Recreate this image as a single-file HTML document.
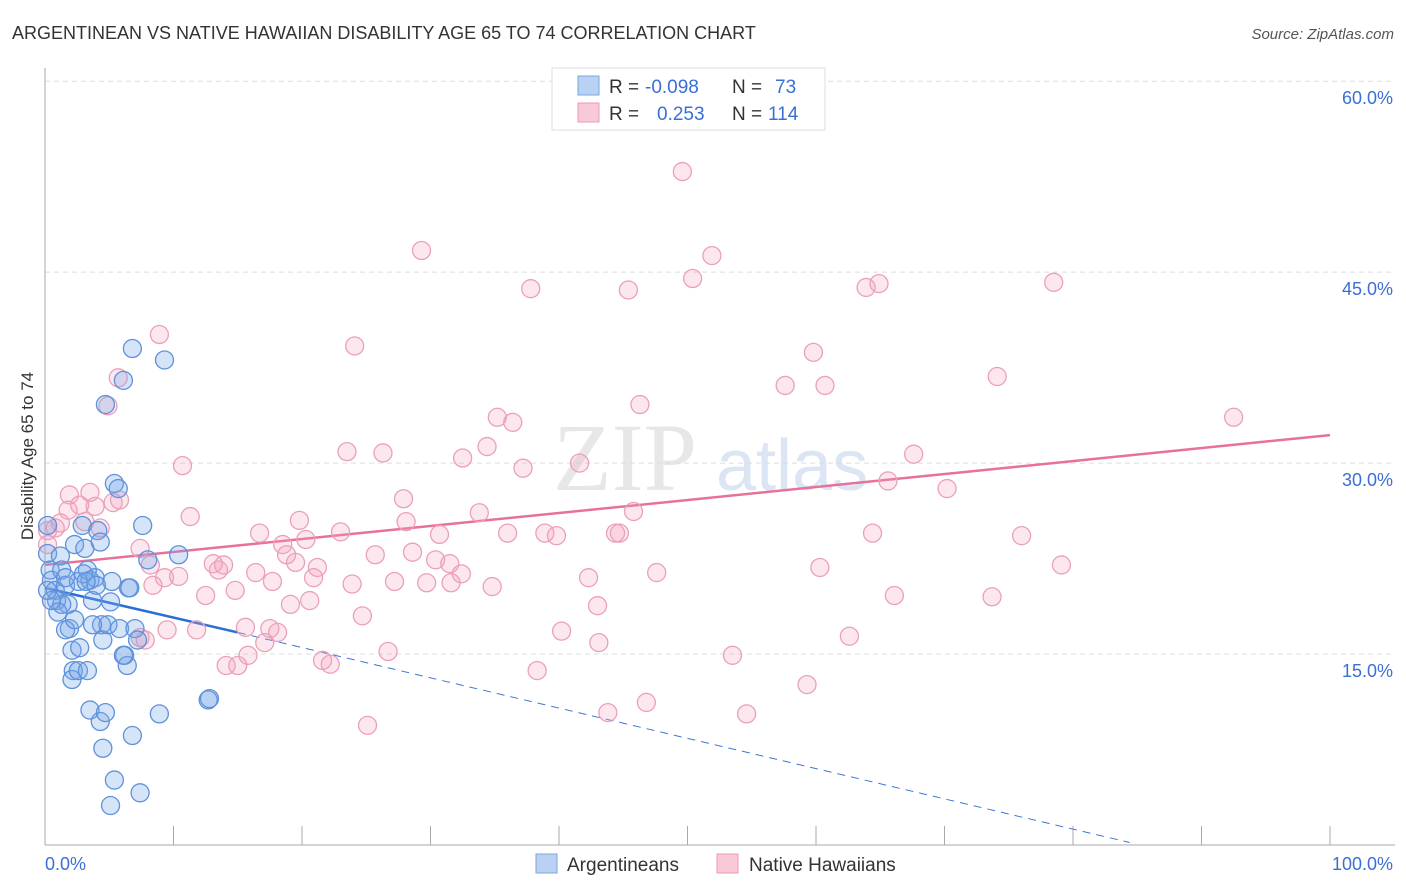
<!DOCTYPE html>
<html><head><meta charset="utf-8"><style>
body{margin:0;background:#fff;font-family:"Liberation Sans",sans-serif;}
svg{display:block}
</style></head><body>
<svg id="chart" width="1406" height="892">
<text x="12" y="39" font-size="18" fill="#333">ARGENTINEAN VS NATIVE HAWAIIAN DISABILITY AGE 65 TO 74 CORRELATION CHART</text>
<text x="1394" y="39" font-size="15" fill="#555" font-style="italic" text-anchor="end">Source: ZipAtlas.com</text>
<text transform="translate(33,456) rotate(-90)" font-size="17" fill="#333" text-anchor="middle">Disability Age 65 to 74</text>
<g opacity="0.35"><text x="553" y="490" font-size="96" fill="#bbb" font-family="Liberation Serif,serif">ZIP</text><text x="716" y="490" font-size="72" fill="#9bb6dd">atlas</text></g>
<g id="grid"></g><g id="axes"></g><g id="trend"></g><g id="pts"></g>
<g>
<rect x="552" y="68" width="273" height="62" fill="#fff" stroke="#ddd"/>
<rect x="578" y="76" width="21" height="19" fill="#b9d2f3" stroke="#7aa6e3"/>
<text x="609" y="93" font-size="19" fill="#333">R = </text><text x="645" y="93" font-size="19" fill="#3b6fd6">-0.098</text>
<text x="732" y="93" font-size="19" fill="#333">N = </text><text x="775" y="93" font-size="19" fill="#3b6fd6">73</text>
<rect x="578" y="103" width="21" height="19" fill="#f8c9d7" stroke="#eb9ab4"/>
<text x="609" y="120" font-size="19" fill="#333">R = </text><text x="657" y="120" font-size="19" fill="#3b6fd6">0.253</text>
<text x="732" y="120" font-size="19" fill="#333">N = </text><text x="768" y="120" font-size="19" fill="#3b6fd6">114</text>
</g>
<g>
<rect x="536" y="854" width="21" height="19" fill="#b9d2f3" stroke="#7aa6e3"/>
<text x="567" y="871" font-size="19" fill="#333">Argentineans</text>
<rect x="717" y="854" width="21" height="19" fill="#f8c9d7" stroke="#eb9ab4"/>
<text x="749" y="871" font-size="19" fill="#333">Native Hawaiians</text>
</g>
</svg>
<script>
const yTicks=[15,30,45,60];
const yTickLabels=["15.0%","30.0%","45.0%","60.0%"];
const xTickLabels=["0.0%","100.0%"];
const blueX=[0.2,0.2,0.4,0.5,0.8,0.9,1.2,1.3,1.6,1.8,1.9,2.1,2.2,2.1,2.3,2.6,2.7,2.9,3.1,3.3,3.5,3.7,3.9,4.1,4.3,4.4,4.5,4.7,4.9,5.1,5.2,5.4,5.7,5.8,6.2,6.4,6.5,6.6,6.8,7.0,7.2,7.6,8.0,8.9,9.3,10.4,12.7,12.8,1.3,1.6,2.6,3.5,4.3,4.5,4.7,5.4,5.1,6.8,7.4,6.1,3.3,4.0,2.3,1.0,3.0,0.5,0.2,3.7,6.1,1.6,3.2];
const blueY=[25.1,22.9,21.6,20.8,20.0,19.2,22.7,21.6,20.4,18.9,17.0,15.3,13.7,13.0,23.6,20.7,15.5,25.1,23.3,21.6,20.8,19.2,21.0,24.7,23.8,17.3,16.1,34.6,17.3,19.1,20.7,28.4,28.0,17.0,14.9,14.1,20.2,20.2,39.0,17.0,16.1,25.1,22.4,10.3,38.1,22.8,11.4,11.5,18.9,16.9,13.7,10.6,9.7,7.6,10.4,5.1,3.1,8.6,4.1,36.5,13.7,20.4,17.7,18.3,21.3,19.2,20.0,17.3,14.9,21.0,20.7];
const pinkX=[8.9,10.7,11.3,9.3,10.4,12.5,13.1,13.5,13.9,14.1,14.8,15.0,15.6,15.8,16.4,16.7,17.1,17.7,18.1,18.5,18.8,19.1,19.5,19.8,20.3,20.9,21.2,21.6,22.2,23.0,23.5,23.9,24.1,24.7,25.1,25.7,26.3,26.7,27.2,27.9,28.1,28.6,29.3,29.7,30.4,30.7,31.6,31.5,32.4,32.5,33.8,34.4,34.8,35.2,36.0,36.4,37.2,37.8,38.3,38.9,39.8,40.2,41.6,42.3,43.0,43.1,43.8,44.4,44.7,45.4,45.8,46.3,46.8,47.6,49.6,50.4,51.9,53.5,54.6,57.6,59.3,59.8,60.3,60.7,62.6,63.9,64.4,64.9,65.6,66.1,67.6,70.2,73.7,74.1,76.0,78.5,79.1,92.5,0.2,3.1,1.9,5.8,7.4,8.2,8.4,7.4,7.8,9.5,11.8,17.5,20.6,0.8,1.2,1.8,2.7,3.5,3.9,4.3,4.9,5.3,5.7,0.2];
const pinkY=[40.1,29.8,25.8,21.0,21.1,19.6,22.1,21.6,22.0,14.1,20.0,14.1,17.1,14.9,21.4,24.5,15.9,20.7,16.7,23.6,22.8,18.9,22.2,25.5,24.0,21.0,21.8,14.5,14.2,24.6,30.9,20.5,39.2,18.0,9.4,22.8,30.8,15.2,20.7,27.2,25.4,23.0,46.7,20.6,22.4,24.4,20.6,22.1,21.3,30.4,26.1,31.3,20.3,33.6,24.5,33.2,29.6,43.7,13.7,24.5,24.3,16.8,30.0,21.0,18.8,15.9,10.4,24.5,24.5,43.6,26.2,34.6,11.2,21.4,52.9,44.5,46.3,14.9,10.3,36.1,12.6,38.7,21.8,36.1,16.4,43.8,24.5,44.1,28.6,19.6,30.7,28.0,19.5,36.8,24.3,44.2,22.0,33.6,23.6,25.4,27.5,27.1,23.3,22.0,20.4,16.3,16.1,16.9,16.9,17.0,19.2,24.9,25.3,26.3,26.7,27.7,26.6,24.9,34.5,26.9,36.7,24.7];
const blueTrend=[[0,20.2],[15,16.7],[84.4,0.2]];
const pinkTrend=[[0,22.0],[100,32.2]];
const X0=45,X1=1330,Y0=845,YPX=12.73;
const sx=v=>X0+(X1-X0)*v/100;
const sy=v=>Y0-v*YPX;
const NS="http://www.w3.org/2000/svg";
function mk(t,a,p){const e=document.createElementNS(NS,t);for(const k in a)e.setAttribute(k,a[k]);p.appendChild(e);return e;}
const grid=document.getElementById('grid'),axes=document.getElementById('axes');
yTicks.forEach((t,i)=>{
 const l=mk('line',{x1:45,x2:1395,y1:sy(t),y2:sy(t),stroke:'#ddd','stroke-dasharray':'5,4'},grid);
 
 
 const tx=mk('text',{x:1393,y:sy(t)+23,'font-size':18,fill:'#3b6fd6','text-anchor':'end'},axes);
 tx.textContent=yTickLabels[i];
 
 
});
const ya=mk('line',{x1:45,x2:45,y1:68,y2:845,stroke:'#aaa'},axes);


const xa=mk('line',{x1:45,x2:1395,y1:845,y2:845,stroke:'#aaa'},axes);


for(let i=0;i<=10;i++){
 const tk=mk('line',{x1:sx(i*10),x2:sx(i*10),y1:826,y2:845,stroke:'#aaa'},axes);
 
 
}
const xl0=mk('text',{x:45,y:870,'font-size':18,fill:'#3b6fd6'},axes);xl0.textContent=xTickLabels[0];


const xl1=mk('text',{x:1393,y:870,'font-size':18,fill:'#3b6fd6','text-anchor':'end'},axes);xl1.textContent=xTickLabels[1];


const pts=document.getElementById('pts');
pinkX.forEach((v,i)=>{
 const c=mk('circle',{cx:sx(v),cy:sy(pinkY[i]),r:9,fill:'rgba(244,160,188,0.25)',stroke:'#eba0b9','stroke-width':1.3},pts);
 
 
});
blueX.forEach((v,i)=>{
 const c=mk('circle',{cx:sx(v),cy:sy(blueY[i]),r:9,fill:'rgba(120,165,232,0.3)',stroke:'#5e92dc','stroke-width':1.3},pts);
 
 
});
const tr=document.getElementById('trend');
const pl=mk('line',{x1:sx(pinkTrend[0][0]),y1:sy(pinkTrend[0][1]),x2:sx(pinkTrend[1][0]),y2:sy(pinkTrend[1][1]),stroke:'#e8719a','stroke-width':2.5},tr);


const bd=mk('line',{x1:sx(blueTrend[1][0]),y1:sy(blueTrend[1][1]),x2:sx(blueTrend[2][0]),y2:sy(blueTrend[2][1]),stroke:'#3b78d8','stroke-width':1,'stroke-dasharray':'8,6'},tr);


const bs=mk('line',{x1:sx(blueTrend[0][0]),y1:sy(blueTrend[0][1]),x2:sx(blueTrend[1][0]),y2:sy(blueTrend[1][1]),stroke:'#2a6fd6','stroke-width':2.5},tr);


</script>
</body></html>
